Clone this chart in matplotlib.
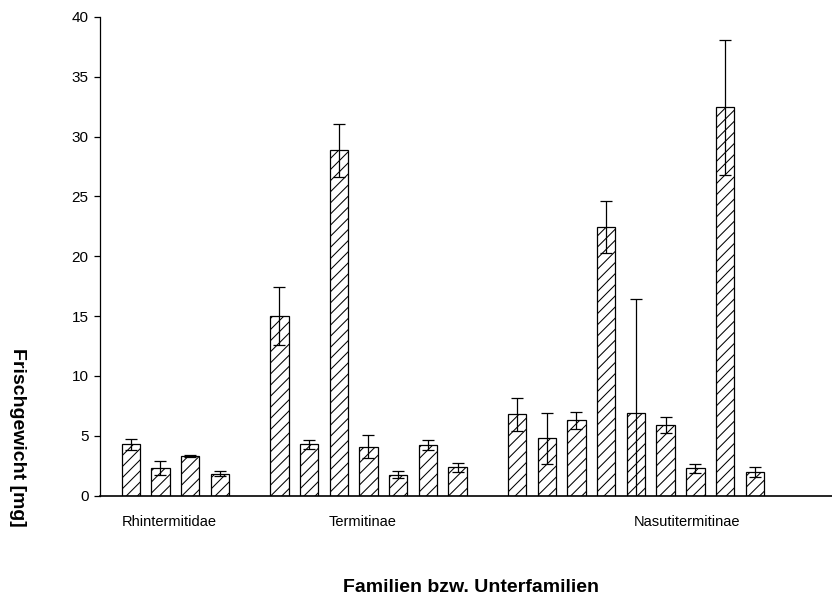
import matplotlib
matplotlib.use("Agg")
import matplotlib.pyplot as plt
import matplotlib.transforms as mtransforms

plt.rcParams['font.family'] = ['Liberation Sans', 'DejaVu Sans']
plt.rcParams['hatch.linewidth'] = 0.75

# Mean fresh weight (mg) and error per species, grouped by (sub)family
groups = ["Rhintermitidae", "Termitinae", "Nasutitermitinae"]
rhin_mean = [4.3, 2.3, 3.3, 1.85]
rhin_err = [0.47, 0.6, 0.08, 0.22]
term_mean = [15.0, 4.3, 28.85, 4.1, 1.75, 4.2, 2.36]
term_err = [2.4, 0.36, 2.2, 0.95, 0.3, 0.42, 0.38]
nasu_mean = [6.8, 4.78, 6.3, 22.45, 6.92, 5.9, 2.27, 32.45, 1.94]
nasu_err = [1.4, 2.14, 0.72, 2.17, 9.54, 0.7, 0.36, 5.66, 0.42]

means = [rhin_mean, term_mean, nasu_mean]
errs = [rhin_err, term_err, nasu_err]

fig = plt.figure(figsize=(8.32, 6.03), dpi=100)
ax = fig.add_axes([0.120, 0.178, 0.880, 0.794])

# one empty slot between groups
pos = 0
for m, e in zip(means, errs):
    xs = list(range(pos, pos + len(m)))
    ax.bar(xs, m, width=0.62, color="white", edgecolor="black",
           linewidth=0.9, hatch="///", zorder=2)
    ax.errorbar(xs, m, yerr=e, fmt="none", ecolor="black",
                elinewidth=0.9, capsize=4.5, capthick=0.9, zorder=3)
    pos += len(m) + 1

ax.set_xlim(-1.04, 23.6)
ax.set_ylim(0, 40)
ax.set_yticks(range(0, 41, 5))
ax.tick_params(axis="y", direction="out", length=4, width=0.9,
               labelsize=11, pad=4)
ax.set_xticks([])
for s in ("top", "right"):
    ax.spines[s].set_visible(False)
ax.spines["left"].set_linewidth(0.9)
ax.spines["bottom"].set_linewidth(1.2)

# group labels below the axis
trans = mtransforms.blended_transform_factory(ax.transData, fig.transFigure)
label_x = [1.31, 7.81, 18.72]
for name, x in zip(groups, label_x):
    ax.text(x, 1 - 522 / 603, name, transform=trans, ha="center",
            va="center", fontsize=10.5)

fig.text(471 / 832, 1 - 588 / 603, "Familien bzw. Unterfamilien",
         ha="center", va="center", fontsize=14, fontweight="bold")
fig.text(17 / 832, 1 - 437 / 603, "Frischgewicht [mg]", rotation=-90,
         ha="center", va="center", fontsize=14, fontweight="bold")

fig.savefig("out.png", dpi=100)
